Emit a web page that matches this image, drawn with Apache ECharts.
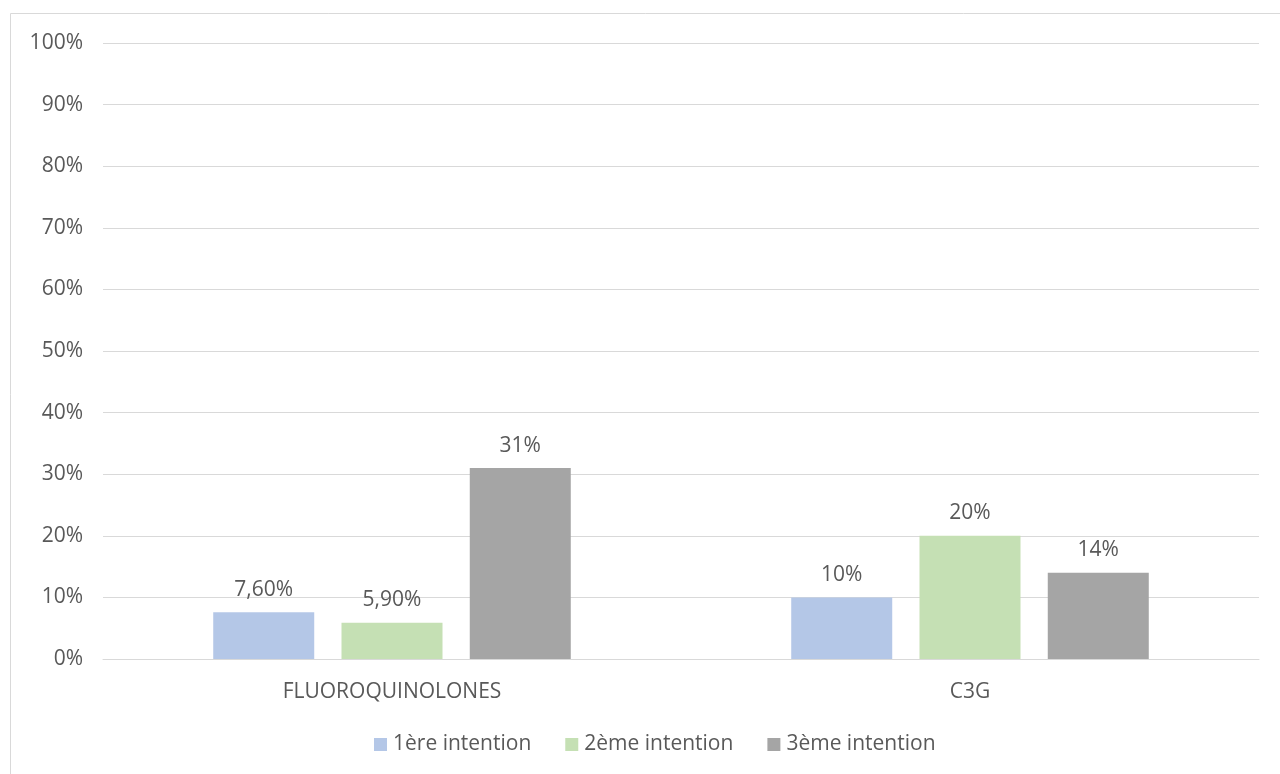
<!DOCTYPE html>
<html><head><meta charset="utf-8">
<script src="https://cdn.jsdelivr.net/npm/echarts@6/dist/echarts.min.js"></script>
<style>html,body{margin:0;padding:0;background:#fff}#c{width:1280px;height:774px}</style>
</head><body><div id="c"></div>
<script>
var categories = ['FLUOROQUINOLONES', 'C3G'];
var seriesNames = ['1ère intention', '2ème intention', '3ème intention'];
var values1 = [7.6, 10];
var values2 = [5.9, 20];
var values3 = [31, 14];
var labels1 = ['7,60%', '10%'];
var labels2 = ['5,90%', '20%'];
var labels3 = ['31%', '14%'];
var yTicks = [0, 10, 20, 30, 40, 50, 60, 70, 80, 90, 100];
var colors = ['#B4C7E7', '#C5E0B4', '#A5A5A5'];

var font = '"Open Sans", Lato, sans-serif';
var fs = 21;
var chart = echarts.init(document.getElementById('c'));
function mk(i, vals, labs) {
  return {
    name: seriesNames[i], type: 'bar', data: vals, barWidth: 101, barGap: '27%',
    itemStyle: { color: colors[i] },
    label: { show: true, position: 'top', distance: 12, color: '#595959', fontSize: fs, fontFamily: font,
      formatter: function (p) { return labs[p.dataIndex]; } }
  };
}
chart.setOption({
  animation: false,
  graphic: [{ type: 'rect', shape: { x: 10.5, y: 13.5, width: 1280, height: 770 },
    style: { fill: 'none', stroke: '#D9D9D9', lineWidth: 1 }, silent: true }],
  grid: { left: 103, right: 21, top: 43, bottom: 115 },
  legend: { bottom: 14, left: 369, itemWidth: 13, itemHeight: 13, itemGap: 34,
    icon: 'rect', textStyle: { color: '#595959', fontSize: fs, fontFamily: font, padding: [0, 0, 0, 1] } },
  xAxis: { type: 'category', data: categories,
    axisLine: { lineStyle: { color: '#D9D9D9' } }, axisTick: { show: false },
    axisLabel: { color: '#595959', fontSize: fs, fontFamily: font, margin: 23 } },
  yAxis: { type: 'value', min: yTicks[0], max: yTicks[yTicks.length - 1], interval: 10,
    axisLine: { show: false }, axisTick: { show: false },
    splitLine: { lineStyle: { color: '#D9D9D9' } },
    axisLabel: { color: '#595959', fontSize: fs, fontFamily: font, margin: 20, formatter: '{value}%' } },
  series: [mk(0, values1, labels1), mk(1, values2, labels2), mk(2, values3, labels3)]
});
</script></body></html>
